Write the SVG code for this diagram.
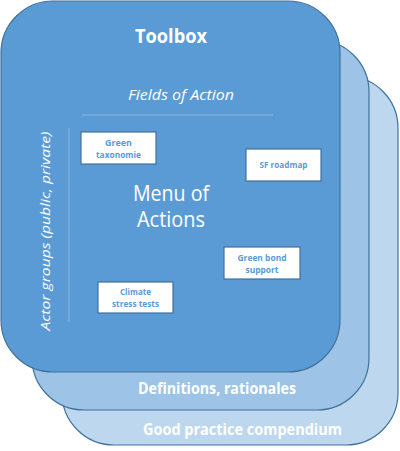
<svg xmlns="http://www.w3.org/2000/svg" width="400" height="451" viewBox="0 0 400 451">
<style>
.card{stroke:#41719C;stroke-width:1.2}
.t{font-family:"Open Sans","Liberation Sans",sans-serif;fill:#FFFFFF;text-anchor:middle}
.b{font-weight:bold}
.i{font-style:italic}
.box rect{fill:#FFFFFF;stroke:#41719C;stroke-width:1.2}
.box text{font-family:"Open Sans","Liberation Sans",sans-serif;font-weight:bold;font-size:9px;fill:#5B9BD5;text-anchor:middle}
.sep{stroke:#8DB6E0;stroke-width:1}
</style>
<g id="card-good-practice">
<rect class="card" x="62" y="76" width="336" height="369" rx="52" fill="#BDD7EE"/>
<text class="t b" x="242.5" y="435" font-size="15.5" textLength="199" lengthAdjust="spacingAndGlyphs">Good practice compendium</text>
</g>
<g id="card-definitions">
<rect class="card" x="32" y="40" width="337" height="370" rx="52" fill="#9DC3E6"/>
<text class="t b" x="217" y="394" font-size="15.5" textLength="158" lengthAdjust="spacingAndGlyphs">Definitions, rationales</text>
</g>
<g id="card-toolbox">
<rect class="card" x="1" y="1" width="339" height="371" rx="52" fill="#5B9BD5"/>
<text class="t b" x="171" y="43" font-size="20" textLength="72" lengthAdjust="spacingAndGlyphs">Toolbox</text>
<text class="t i" x="181" y="100" font-size="14" textLength="106" lengthAdjust="spacingAndGlyphs">Fields of Action</text>
<text class="t i" transform="translate(50,231) rotate(-90)" x="0" y="0" font-size="13.5" textLength="199" lengthAdjust="spacingAndGlyphs">Actor groups (public, private)</text>
<text class="t" x="171" y="201" font-size="21" textLength="76" lengthAdjust="spacingAndGlyphs">Menu of</text>
<text class="t" x="171" y="227" font-size="21" textLength="68" lengthAdjust="spacingAndGlyphs">Actions</text>
</g>
<g id="connectors">
<line class="sep" x1="82" y1="115" x2="273" y2="115"/>
<line class="sep" x1="69" y1="128" x2="69" y2="322"/>
</g>
<g id="node-green-taxonomie" class="box">
<rect x="81" y="132" width="75" height="32"/>
<text x="118.5" y="146" textLength="27" lengthAdjust="spacingAndGlyphs">Green</text>
<text x="118.5" y="158" textLength="45" lengthAdjust="spacingAndGlyphs">taxonomie</text>
</g>
<g id="node-sf-roadmap" class="box">
<rect x="246" y="149" width="75" height="32"/>
<text x="283.5" y="168" textLength="48" lengthAdjust="spacingAndGlyphs">SF roadmap</text>
</g>
<g id="node-green-bond" class="box">
<rect x="224" y="247" width="76" height="32"/>
<text x="262" y="261" textLength="49" lengthAdjust="spacingAndGlyphs">Green bond</text>
<text x="262" y="273" textLength="33" lengthAdjust="spacingAndGlyphs">support</text>
</g>
<g id="node-climate" class="box">
<rect x="98" y="282" width="75" height="31"/>
<text x="135.5" y="295" textLength="31" lengthAdjust="spacingAndGlyphs">Climate</text>
<text x="135.5" y="307" textLength="47" lengthAdjust="spacingAndGlyphs">stress tests</text>
</g>
</svg>
